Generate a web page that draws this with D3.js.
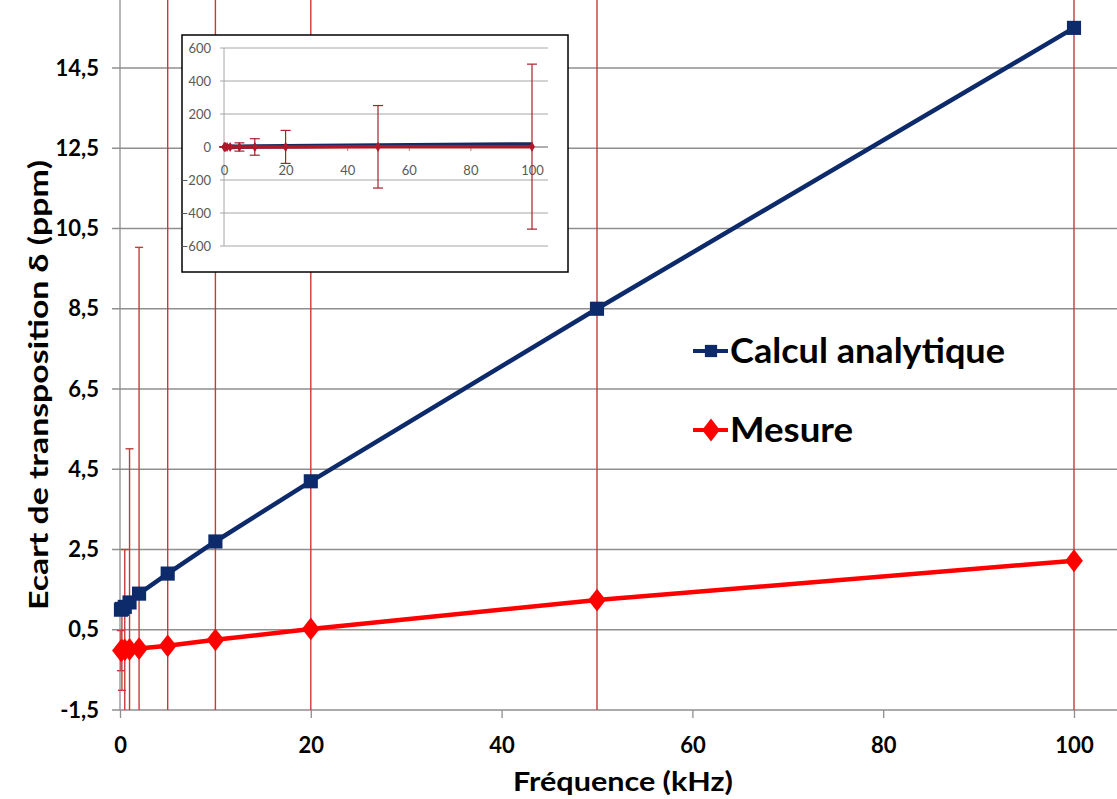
<!DOCTYPE html>
<html><head><meta charset="utf-8">
<script src="https://cdn.jsdelivr.net/npm/d3@7"></script>
<style>html,body{margin:0;padding:0;background:#fff;}svg{display:block;}</style>
</head><body>
<svg id="chart" width="1117" height="799"></svg>
<script>
const freq = [0.1, 0.2, 0.5, 1, 2, 5, 10, 20, 50, 100];
const calcul = [1.0, 1.02, 1.07, 1.18, 1.4, 1.9, 2.7, 4.2, 8.5, 15.5];
const mesure = [-0.02, -0.01, 0.0, 0.01, 0.03, 0.1, 0.25, 0.52, 1.24, 2.22];
const errMesure = [0.5, 1, 2.5, 5, 10, 25, 50, 100, 250, 500];
const yTicks = [-1.5, 0.5, 2.5, 4.5, 6.5, 8.5, 10.5, 12.5, 14.5];
const xTicks = [0, 20, 40, 60, 80, 100];
const insetYTicks = [-600, -400, -200, 0, 200, 400, 600];
const insetXTicks = [0, 20, 40, 60, 80, 100];
const seriesNames = ["Calcul analytique", "Mesure"];

const svg = d3.select("#chart");
const plotTop = 0, plotRight = 1117;
const xs = d3.scaleLinear().domain([0, 100]).range([120, 1074]);
const ys = d3.scaleLinear().domain([-1.5, 14.5]).range([710, 68]);
const blue = "#0d2b6b", red = "#ff0000", errCol = "#c83a3a", grid = "#8f8f8f";
const font = "Lato, 'Open Sans', sans-serif";

// gridlines
svg.append("g").selectAll("line").data(yTicks).join("line")
  .attr("x1", xs(0) - 8).attr("x2", plotRight)
  .attr("y1", d => ys(d)).attr("y2", d => ys(d))
  .attr("stroke", grid).attr("stroke-width", 1.3);

// axis lines
svg.append("line").attr("x1", xs(0)).attr("x2", xs(0)).attr("y1", ys(-1.5)).attr("y2", plotTop)
  .attr("stroke", grid).attr("stroke-width", 1.3);

const yAxis = svg.append("g").attr("transform", `translate(${xs(0)},0)`)
  .call(d3.axisLeft(ys).tickValues(yTicks).tickSize(0).tickPadding(21)
    .tickFormat(d => String(d).replace(".", ",")));
yAxis.select(".domain").remove();
yAxis.selectAll("text").attr("font-family", font).attr("font-weight", "bold")
  .attr("font-size", 22).attr("fill", "#000");

const xAxis = svg.append("g").attr("transform", `translate(0,${ys(-1.5)})`)
  .call(d3.axisBottom(xs).tickValues(xTicks).tickSize(8).tickPadding(19));
xAxis.select(".domain").remove();
xAxis.selectAll("line").attr("stroke", grid).attr("stroke-width", 1.3);
xAxis.selectAll("text").attr("font-family", font).attr("font-weight", "bold")
  .attr("font-size", 22).attr("fill", "#000");

// titles
svg.append("text").attr("x", 623).attr("y", 781).attr("text-anchor", "middle")
  .attr("dominant-baseline", "central").attr("font-family", font).attr("font-weight", "bold")
  .attr("font-size", 26).attr("textLength", 220).attr("lengthAdjust", "spacingAndGlyphs")
  .attr("fill", "#000").text("Fréquence (kHz)");
svg.append("text").attr("transform", "translate(38,385) rotate(-90)").attr("text-anchor", "middle")
  .attr("dominant-baseline", "central").attr("font-family", font).attr("font-weight", "bold")
  .attr("font-size", 26).attr("textLength", 450).attr("lengthAdjust", "spacingAndGlyphs")
  .attr("fill", "#000").text("Ecart de transposition δ (ppm)");

// clip
svg.append("clipPath").attr("id", "plotclip").append("rect")
  .attr("x", xs(0) - 12).attr("y", plotTop).attr("width", plotRight - xs(0) + 12).attr("height", ys(-1.5) - plotTop);

const data = freq.map((f, i) => ({f, c: calcul[i], m: mesure[i], e: errMesure[i]}));

// error bars
const eb = svg.append("g").attr("clip-path", "url(#plotclip)");
eb.selectAll("line.v").data(data).join("line").attr("class", "v")
  .attr("x1", d => xs(d.f)).attr("x2", d => xs(d.f))
  .attr("y1", d => ys(d.m - d.e)).attr("y2", d => ys(d.m + d.e))
  .attr("stroke", errCol).attr("stroke-width", 1.4);
["top", "bot"].forEach(k => {
  eb.selectAll("line." + k).data(data).join("line").attr("class", k)
    .attr("x1", d => xs(d.f) - 4).attr("x2", d => xs(d.f) + 4)
    .attr("y1", d => ys(k === "top" ? d.m + d.e : d.m - d.e))
    .attr("y2", d => ys(k === "top" ? d.m + d.e : d.m - d.e))
    .attr("stroke", errCol).attr("stroke-width", 1.4);
});

// lines
const lineC = d3.line().x(d => xs(d.f)).y(d => ys(d.c));
const lineM = d3.line().x(d => xs(d.f)).y(d => ys(d.m));
svg.append("path").datum(data).attr("d", lineM).attr("fill", "none").attr("stroke", red).attr("stroke-width", 4.5);
svg.append("path").datum(data).attr("d", lineC).attr("fill", "none").attr("stroke", blue).attr("stroke-width", 4.5);

const sq = d3.symbol().type(d3.symbolSquare).size(200);
const dm = d3.symbol().type(d3.symbolDiamond).size(150);
svg.append("g").selectAll("path").data(data).join("path")
  .attr("transform", d => `translate(${xs(d.f)},${ys(d.m)}) scale(1.35,1)`).attr("d", dm).attr("fill", red);
svg.append("g").selectAll("path").data(data).join("path")
  .attr("transform", d => `translate(${xs(d.f)},${ys(d.c)})`).attr("d", sq).attr("fill", blue);

// legend
const leg = [{name: seriesNames[0], color: blue, sym: "sq", y: 351, len: 275},
             {name: seriesNames[1], color: red, sym: "dm", y: 430, len: 123}];
const lg = svg.append("g");
leg.forEach(l => {
  lg.append("line").attr("x1", 693).attr("x2", 728).attr("y1", l.y).attr("y2", l.y)
    .attr("stroke", l.color).attr("stroke-width", 4);
  lg.append("path").attr("d", l.sym === "sq" ? d3.symbol().type(d3.symbolSquare).size(150)() : dm())
    .attr("transform", `translate(711,${l.y})` + (l.sym === "sq" ? "" : " scale(1.35,1)"))
    .attr("fill", l.color);
  lg.append("text").attr("x", 730).attr("y", l.y + 12).attr("font-family", font).attr("font-weight", "bold")
    .attr("font-size", 35).attr("textLength", l.len).attr("lengthAdjust", "spacingAndGlyphs")
    .attr("fill", "#000").text(l.name);
});

// inset
const ins = svg.append("g");
ins.append("rect").attr("x", 182).attr("y", 35).attr("width", 386).attr("height", 237)
  .attr("fill", "#fff").attr("stroke", "#000").attr("stroke-width", 1.5);
const xi = d3.scaleLinear().domain([0, 100]).range([224, 532]);
const yi = d3.scaleLinear().domain([-600, 600]).range([246, 48]);
ins.append("g").selectAll("line").data(insetYTicks).join("line")
  .attr("x1", xi(0) - 4).attr("x2", 548).attr("y1", d => yi(d)).attr("y2", d => yi(d))
  .attr("stroke", "#a6a6a6").attr("stroke-width", 1);
ins.append("line").attr("x1", xi(0)).attr("x2", xi(0)).attr("y1", yi(-600)).attr("y2", yi(600))
  .attr("stroke", "#a6a6a6").attr("stroke-width", 1);
const iy = ins.append("g").attr("transform", `translate(${xi(0)},0)`)
  .call(d3.axisLeft(yi).tickValues(insetYTicks).tickSize(0).tickPadding(13));
iy.select(".domain").remove();
iy.selectAll("text").attr("font-family", font).attr("font-size", 13).attr("fill", "#595959");
const ix = ins.append("g").attr("transform", `translate(0,${yi(0)})`)
  .call(d3.axisBottom(xi).tickValues(insetXTicks).tickSize(4).tickPadding(15));
ix.select(".domain").attr("stroke", "#8c8c8c").attr("d", `M${xi(0)},0H548`);
ix.selectAll("line").attr("stroke", "#8c8c8c");
ix.selectAll("text").attr("font-family", font).attr("font-size", 13).attr("fill", "#595959");

const ieb = ins.append("g");
const ierr = "#a8202c";
ieb.selectAll("line.v").data(data).join("line").attr("class", "v")
  .attr("x1", d => xi(d.f)).attr("x2", d => xi(d.f))
  .attr("y1", d => yi(d.m - d.e)).attr("y2", d => yi(d.m + d.e))
  .attr("stroke", ierr).attr("stroke-width", 1.2);
["top", "bot"].forEach(k => {
  ieb.selectAll("line." + k).data(data).join("line").attr("class", k)
    .attr("x1", d => xi(d.f) - 5).attr("x2", d => xi(d.f) + 5)
    .attr("y1", d => yi(k === "top" ? d.m + d.e : d.m - d.e))
    .attr("y2", d => yi(k === "top" ? d.m + d.e : d.m - d.e))
    .attr("stroke", ierr).attr("stroke-width", 1.2);
});
const ilC = d3.line().x(d => xi(d.f)).y(d => yi(d.c));
const ilM = d3.line().x(d => xi(d.f)).y(d => yi(d.m));
ins.append("path").datum(data).attr("d", ilC).attr("fill", "none").attr("stroke", "#1a2a5e").attr("stroke-width", 4.5);
ins.append("path").datum(data).attr("d", ilM).attr("fill", "none").attr("stroke", "#b0182a").attr("stroke-width", 3.5);
ins.append("g").selectAll("path").data(data).join("path")
  .attr("transform", d => `translate(${xi(d.f)},${yi(d.m)})`)
  .attr("d", d3.symbol().type(d3.symbolDiamond).size(30)).attr("fill", "#b0182a");
</script>
</body></html>
